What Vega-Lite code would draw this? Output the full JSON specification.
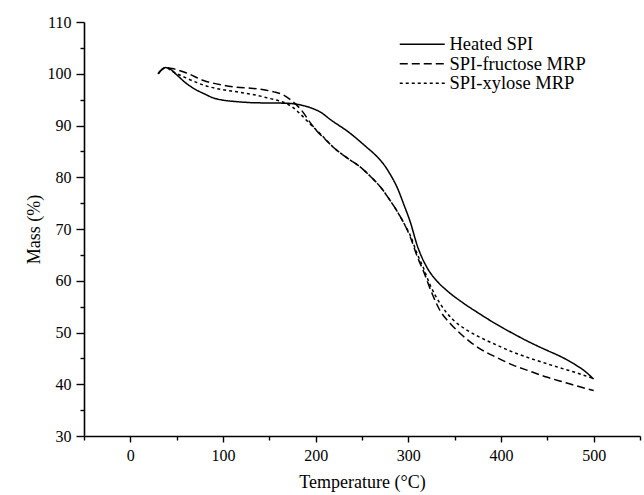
{
  "$schema": "https://vega.github.io/schema/vega-lite/v6.json",
  "width": 556,
  "height": 414,
  "autosize": {"type": "none"},
  "padding": {"left": 84, "top": 22, "right": 4, "bottom": 59},
  "background": "white",
  "config": {
    "view": {"stroke": null},
    "font": "Liberation Serif",
    "axis": {"grid": false, "domainColor": "black", "domainWidth": 1.6, "tickColor": "black", "tickWidth": 1.4, "labelColor": "black", "titleColor": "black", "labelFont": "Liberation Serif", "titleFont": "Liberation Serif", "labelFontSize": 16, "titleFontSize": 18, "titleFontWeight": "normal"}
  },
  "data": {"values": [
    {"s": "Heated SPI", "t": 30, "m": 100.0},
    {"s": "Heated SPI", "t": 34, "m": 100.8},
    {"s": "Heated SPI", "t": 38, "m": 101.2},
    {"s": "Heated SPI", "t": 42, "m": 101.0},
    {"s": "Heated SPI", "t": 50, "m": 99.8},
    {"s": "Heated SPI", "t": 60, "m": 98.2},
    {"s": "Heated SPI", "t": 70, "m": 97.0},
    {"s": "Heated SPI", "t": 80, "m": 96.1},
    {"s": "Heated SPI", "t": 90, "m": 95.3},
    {"s": "Heated SPI", "t": 100, "m": 94.9},
    {"s": "Heated SPI", "t": 115, "m": 94.6},
    {"s": "Heated SPI", "t": 133, "m": 94.4},
    {"s": "Heated SPI", "t": 150, "m": 94.35},
    {"s": "Heated SPI", "t": 169, "m": 94.3},
    {"s": "Heated SPI", "t": 183, "m": 94.0},
    {"s": "Heated SPI", "t": 195, "m": 93.4},
    {"s": "Heated SPI", "t": 205, "m": 92.6},
    {"s": "Heated SPI", "t": 217, "m": 91.0},
    {"s": "Heated SPI", "t": 235, "m": 88.8},
    {"s": "Heated SPI", "t": 255, "m": 85.8},
    {"s": "Heated SPI", "t": 265, "m": 84.2},
    {"s": "Heated SPI", "t": 273, "m": 82.6},
    {"s": "Heated SPI", "t": 280, "m": 80.7},
    {"s": "Heated SPI", "t": 288, "m": 78.0},
    {"s": "Heated SPI", "t": 295, "m": 74.8},
    {"s": "Heated SPI", "t": 302, "m": 71.4},
    {"s": "Heated SPI", "t": 310, "m": 66.6},
    {"s": "Heated SPI", "t": 320, "m": 62.6},
    {"s": "Heated SPI", "t": 330, "m": 60.1},
    {"s": "Heated SPI", "t": 341, "m": 58.2},
    {"s": "Heated SPI", "t": 360, "m": 55.6},
    {"s": "Heated SPI", "t": 377, "m": 53.6},
    {"s": "Heated SPI", "t": 395, "m": 51.6},
    {"s": "Heated SPI", "t": 413, "m": 49.8},
    {"s": "Heated SPI", "t": 430, "m": 48.2},
    {"s": "Heated SPI", "t": 449, "m": 46.6},
    {"s": "Heated SPI", "t": 465, "m": 45.3},
    {"s": "Heated SPI", "t": 480, "m": 43.8},
    {"s": "Heated SPI", "t": 490, "m": 42.6},
    {"s": "Heated SPI", "t": 500, "m": 41.0},
    {"s": "SPI-fructose MRP", "t": 30, "m": 100.0},
    {"s": "SPI-fructose MRP", "t": 34, "m": 100.8},
    {"s": "SPI-fructose MRP", "t": 38, "m": 101.2},
    {"s": "SPI-fructose MRP", "t": 45, "m": 101.0},
    {"s": "SPI-fructose MRP", "t": 60, "m": 100.2},
    {"s": "SPI-fructose MRP", "t": 79, "m": 98.7},
    {"s": "SPI-fructose MRP", "t": 100, "m": 97.8},
    {"s": "SPI-fructose MRP", "t": 115, "m": 97.4},
    {"s": "SPI-fructose MRP", "t": 130, "m": 97.2},
    {"s": "SPI-fructose MRP", "t": 144, "m": 96.9},
    {"s": "SPI-fructose MRP", "t": 155, "m": 96.5},
    {"s": "SPI-fructose MRP", "t": 164, "m": 96.0},
    {"s": "SPI-fructose MRP", "t": 174, "m": 94.8},
    {"s": "SPI-fructose MRP", "t": 184, "m": 93.1},
    {"s": "SPI-fructose MRP", "t": 194, "m": 90.6},
    {"s": "SPI-fructose MRP", "t": 201, "m": 89.0},
    {"s": "SPI-fructose MRP", "t": 210, "m": 87.4},
    {"s": "SPI-fructose MRP", "t": 219, "m": 85.8},
    {"s": "SPI-fructose MRP", "t": 235, "m": 83.6},
    {"s": "SPI-fructose MRP", "t": 248, "m": 82.0},
    {"s": "SPI-fructose MRP", "t": 260, "m": 80.0},
    {"s": "SPI-fructose MRP", "t": 270, "m": 78.1},
    {"s": "SPI-fructose MRP", "t": 280, "m": 75.6},
    {"s": "SPI-fructose MRP", "t": 288, "m": 73.4},
    {"s": "SPI-fructose MRP", "t": 295, "m": 71.2},
    {"s": "SPI-fructose MRP", "t": 302, "m": 68.5},
    {"s": "SPI-fructose MRP", "t": 310, "m": 64.5},
    {"s": "SPI-fructose MRP", "t": 316, "m": 62.0},
    {"s": "SPI-fructose MRP", "t": 325, "m": 57.8},
    {"s": "SPI-fructose MRP", "t": 334, "m": 54.3},
    {"s": "SPI-fructose MRP", "t": 345, "m": 51.8},
    {"s": "SPI-fructose MRP", "t": 356, "m": 49.8},
    {"s": "SPI-fructose MRP", "t": 366, "m": 48.3},
    {"s": "SPI-fructose MRP", "t": 377, "m": 46.9},
    {"s": "SPI-fructose MRP", "t": 395, "m": 45.2},
    {"s": "SPI-fructose MRP", "t": 413, "m": 43.7},
    {"s": "SPI-fructose MRP", "t": 430, "m": 42.6},
    {"s": "SPI-fructose MRP", "t": 449, "m": 41.4},
    {"s": "SPI-fructose MRP", "t": 470, "m": 40.3},
    {"s": "SPI-fructose MRP", "t": 485, "m": 39.5},
    {"s": "SPI-fructose MRP", "t": 500, "m": 38.8},
    {"s": "SPI-xylose MRP", "t": 30, "m": 100.0},
    {"s": "SPI-xylose MRP", "t": 34, "m": 100.8},
    {"s": "SPI-xylose MRP", "t": 38, "m": 101.2},
    {"s": "SPI-xylose MRP", "t": 45, "m": 100.5},
    {"s": "SPI-xylose MRP", "t": 60, "m": 99.2},
    {"s": "SPI-xylose MRP", "t": 79, "m": 97.8},
    {"s": "SPI-xylose MRP", "t": 100, "m": 96.9},
    {"s": "SPI-xylose MRP", "t": 115, "m": 96.5},
    {"s": "SPI-xylose MRP", "t": 135, "m": 95.9},
    {"s": "SPI-xylose MRP", "t": 151, "m": 95.2},
    {"s": "SPI-xylose MRP", "t": 160, "m": 94.8},
    {"s": "SPI-xylose MRP", "t": 169, "m": 94.2},
    {"s": "SPI-xylose MRP", "t": 176, "m": 93.4},
    {"s": "SPI-xylose MRP", "t": 183, "m": 92.3},
    {"s": "SPI-xylose MRP", "t": 194, "m": 90.3},
    {"s": "SPI-xylose MRP", "t": 205, "m": 88.4},
    {"s": "SPI-xylose MRP", "t": 219, "m": 85.8},
    {"s": "SPI-xylose MRP", "t": 235, "m": 83.6},
    {"s": "SPI-xylose MRP", "t": 248, "m": 82.0},
    {"s": "SPI-xylose MRP", "t": 260, "m": 80.0},
    {"s": "SPI-xylose MRP", "t": 270, "m": 78.1},
    {"s": "SPI-xylose MRP", "t": 280, "m": 75.6},
    {"s": "SPI-xylose MRP", "t": 288, "m": 73.4},
    {"s": "SPI-xylose MRP", "t": 295, "m": 71.2},
    {"s": "SPI-xylose MRP", "t": 302, "m": 68.8},
    {"s": "SPI-xylose MRP", "t": 310, "m": 65.0},
    {"s": "SPI-xylose MRP", "t": 316, "m": 62.6},
    {"s": "SPI-xylose MRP", "t": 323, "m": 59.4},
    {"s": "SPI-xylose MRP", "t": 335, "m": 55.4},
    {"s": "SPI-xylose MRP", "t": 348, "m": 52.5},
    {"s": "SPI-xylose MRP", "t": 362, "m": 50.6},
    {"s": "SPI-xylose MRP", "t": 377, "m": 49.1},
    {"s": "SPI-xylose MRP", "t": 395, "m": 47.6},
    {"s": "SPI-xylose MRP", "t": 413, "m": 46.2},
    {"s": "SPI-xylose MRP", "t": 430, "m": 45.1},
    {"s": "SPI-xylose MRP", "t": 449, "m": 44.0},
    {"s": "SPI-xylose MRP", "t": 465, "m": 43.1},
    {"s": "SPI-xylose MRP", "t": 480, "m": 42.3},
    {"s": "SPI-xylose MRP", "t": 490, "m": 41.7},
    {"s": "SPI-xylose MRP", "t": 500, "m": 41.1}
  ]},
  "mark": {"type": "line", "interpolate": "monotone", "strokeWidth": 1.5, "color": "black"},
  "encoding": {
    "x": {"field": "t", "type": "quantitative", "title": "Temperature (°C)",
      "scale": {"domain": [-50, 550], "nice": false, "zero": false},
      "axis": {"values": [-50, 0, 50, 100, 150, 200, 250, 300, 350, 400, 450, 500, 550],
        "labelExpr": "datum.value % 100 === 0 ? datum.label : ''",
        "tickSize": {"condition": {"test": "datum.value % 100 === 0", "value": 6}, "value": 4},
        "labelPadding": 5, "titlePadding": 10, "labelFlush": false}},
    "y": {"field": "m", "type": "quantitative", "title": "Mass (%)",
      "scale": {"domain": [30, 110], "nice": false, "zero": false},
      "axis": {"values": [30, 35, 40, 45, 50, 55, 60, 65, 70, 75, 80, 85, 90, 95, 100, 105, 110],
        "labelExpr": "datum.value % 10 === 0 ? datum.label : ''",
        "tickSize": {"condition": {"test": "datum.value % 10 === 0", "value": 8}, "value": 4},
        "labelPadding": 5, "titlePadding": 4, "labelFlush": false}},
    "strokeDash": {"field": "s", "type": "nominal",
      "scale": {"domain": ["Heated SPI", "SPI-fructose MRP", "SPI-xylose MRP"], "range": [[1, 0], [8, 4], [3, 3]]},
      "legend": {"title": null, "orient": "none", "legendX": 329, "legendY": 13, "padding": 0,
        "symbolType": "M-3,0H3", "symbolSize": 225, "symbolStrokeWidth": 1.5, "symbolStrokeColor": "black", "symbolFillColor": "transparent",
        "labelFont": "Liberation Serif", "labelFontSize": 18.5, "labelColor": "black", "labelOffset": 18, "rowPadding": 0.5}}
  }
}
